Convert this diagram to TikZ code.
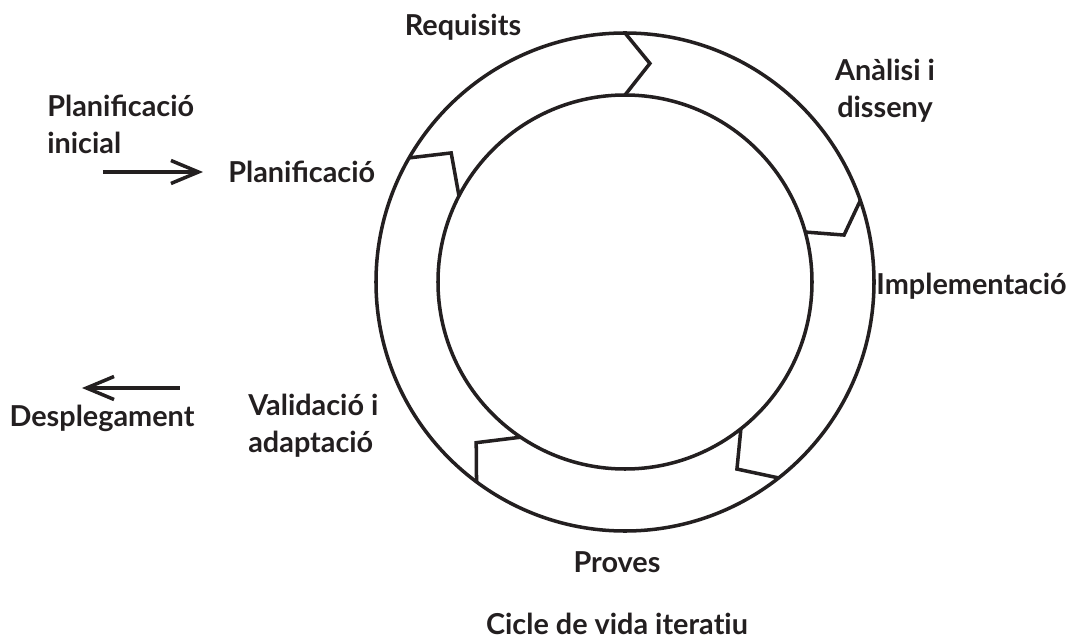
\documentclass[tikz,border=0pt]{standalone}
\usepackage{fontspec}
\setmainfont{Lato}
\usetikzlibrary{arrows.meta}
\definecolor{ink}{RGB}{35,31,32}
\tikzstyle{stage} = [font=\bfseries\fontsize{16.4}{21}\selectfont, text=ink, inner sep=0pt, align=center]
\tikzstyle{ring} = [draw=ink, line width=2pt]
\tikzstyle{sep} = [draw=ink, line width=2pt, line join=miter]
\tikzstyle{arrow} = [draw=ink, line width=2pt, -{Straight Barb[length=5.5mm, width=4.6mm, line width=2pt]}]

\begin{document}
\begin{tikzpicture}
    \useasboundingbox (-12.5,-7.18) rectangle (8.9,5.64);
    \coordinate (centre) at (0,0);

    % the two rings
    \draw[ring] (centre) circle (4.98cm);
    \draw[ring] (centre) circle (3.74cm);

    % separators between the stages
    \draw[sep] (90:4.98) -- (83.5:4.40) -- (90:3.74);
    \draw[sep] (19.1:4.98) -- (12.1:4.48) -- (15.5:3.74);
    \draw[sep] (-51.9:4.98) -- (-59.1:4.36) -- (-51.7:3.74);
    \draw[sep] (-126.6:4.98) -- (-132.8:4.38) -- (-123.9:3.74);
    \draw[sep] (150.1:4.98) -- (143.4:4.33) -- (152.6:3.74);

    % stages
    \node (requisits) [stage] at (-3.24,5.10) {Requisits};
    \node (analisi) [stage] at (5.20,3.82) {Anàlisi i\\disseny};
    \node (implementacio) [stage] at (6.93,-0.08) {Implementació};
    \node (proves) [stage] at (-0.16,-5.60) {Proves};
    \node (validacio) [stage, align=left, anchor=west] at (-7.54,-2.88) {Validació i\\adaptació};
    \node (planificacio) [stage, anchor=west] at (-7.94,2.20) {Planificació};

    % entry and exit
    \node (inicial) [stage, align=left, anchor=west] at (-11.56,3.16) {Planificació\\inicial};
    \node (desplegament) [stage] at (-10.46,-2.72) {Desplegament};
    \node (titol) [stage] at (-0.16,-6.84) {Cicle de vida itera\mbox{t}iu};

    \coordinate (inici) at (-10.44,2.20);
    \coordinate (sortida) at (-8.90,-2.12);
    \coordinate (final) at (-10.86,-2.12);

    \draw[arrow] (inici) -- (planificacio.west) [shorten >=0.5cm];
    \draw[arrow] (sortida) -- (final);

    \end{tikzpicture}
\end{document}
